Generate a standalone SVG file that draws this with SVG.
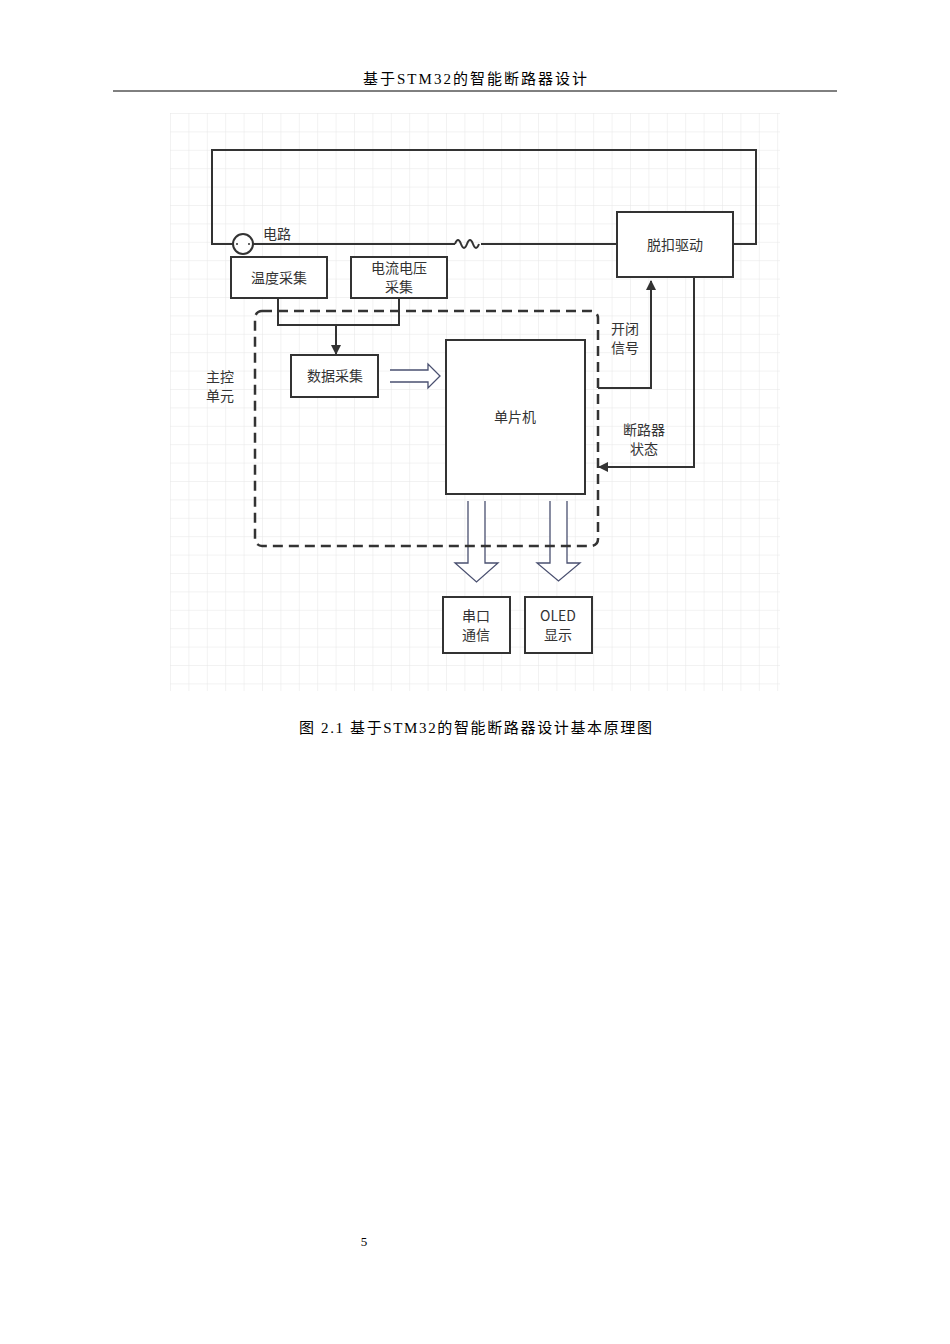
<svg xmlns="http://www.w3.org/2000/svg" width="950" height="1344" viewBox="0 0 950 1344">
<style>
.s{font-family:"Liberation Serif","Noto Sans CJK SC",serif;fill:#000}
.t{font-family:"Noto Sans CJK SC","Noto Sans",sans-serif;font-size:14px;fill:#333;text-anchor:middle}
.b{fill:#fff;stroke:#333;stroke-width:2}
.l{fill:none;stroke:#333;stroke-width:2}
.h{fill:#fff;stroke:#4a5070;stroke-width:1.3}
</style>
<defs>
<pattern id="g" width="18.4" height="18.4" patternUnits="userSpaceOnUse" x="170" y="113">
<path d="M0 0H18.4M0 0V18.4" stroke="#e6e6e6" stroke-width="1" fill="none"/>
</pattern>
<marker id="a" markerWidth="10" markerHeight="10" refX="9" refY="5" orient="auto" markerUnits="userSpaceOnUse">
<path d="M0 0L10 5L0 10Z" fill="#333"/>
</marker>
</defs>
<rect width="950" height="1344" fill="#fff"/>
<text class="s" x="363" y="84" font-size="15" textLength="224" lengthAdjust="spacing">基于STM32的智能断路器设计</text>
<line x1="113" y1="91" x2="837" y2="91" stroke="#000" stroke-width="1"/>
<rect x="170" y="113" width="610" height="578" fill="url(#g)"/>
<g id="connectors">
<path class="l" d="M233 244H212V150H756V244H733"/>
<path class="l" d="M253 244H455"/>
<path class="l" d="M455 244q3 -8 6 0t6 0t6 0t6 0"/>
<path class="l" d="M481 244H617"/>
<path class="l" d="M278 298V325H399V298"/>
<path class="l" d="M336 325V354" marker-end="url(#a)"/>
<path class="l" d="M598 388H651V281" marker-end="url(#a)"/>
<path class="l" d="M694 277V467H599" marker-end="url(#a)"/>
<path class="h" d="M390 370H428V364L440 376L428 388V382H390"/>
<path class="h" d="M468 501V563H455L476.5 582L498 563H485V501"/>
<path class="h" d="M550 501V563H537L558.5 581L580 563H567V501"/>
</g>
<g id="circle"><circle cx="243" cy="244" r="10" class="b"/><circle cx="237" cy="244" r="1" fill="#333"/><circle cx="249" cy="244" r="1" fill="#333"/></g>
<text class="t" x="277" y="239">电路</text>
<g id="main"><rect x="255" y="311" width="343" height="235" rx="7" fill="none" stroke="#333" stroke-width="2.5" stroke-dasharray="10 6"/>
<text class="t" x="220" y="382">主控</text><text class="t" x="220" y="401">单元</text></g>
<g id="n1"><rect class="b" x="231" y="257" width="96" height="41"/><text class="t" x="279" y="283">温度采集</text></g>
<g id="n2"><rect class="b" x="351" y="257" width="96" height="41"/><text class="t" x="399" y="273">电流电压</text><text class="t" x="399" y="292">采集</text></g>
<g id="n3"><rect class="b" x="291" y="355" width="87" height="42"/><text class="t" x="335" y="381">数据采集</text></g>
<g id="n4"><rect class="b" x="446" y="340" width="139" height="154"/><text class="t" x="515" y="422">单片机</text></g>
<g id="n5"><rect class="b" x="617" y="212" width="116" height="65"/><text class="t" x="675" y="250">脱扣驱动</text></g>
<text class="t" x="625" y="334">开闭</text><text class="t" x="625" y="353">信号</text>
<text class="t" x="644" y="435">断路器</text><text class="t" x="644" y="454">状态</text>
<g id="n6"><rect class="b" x="443" y="597" width="67" height="56"/><text class="t" x="476" y="621">串口</text><text class="t" x="476" y="640">通信</text></g>
<g id="n7"><rect class="b" x="525" y="597" width="67" height="56"/><text class="t" x="558" y="621">OLED</text><text class="t" x="558" y="640">显示</text></g>
<text class="s" x="299" y="733" font-size="15" textLength="353" lengthAdjust="spacing">图 2.1 基于STM32的智能断路器设计基本原理图</text>
<text class="s" x="364" y="1246" font-size="13" text-anchor="middle">5</text>
</svg>
